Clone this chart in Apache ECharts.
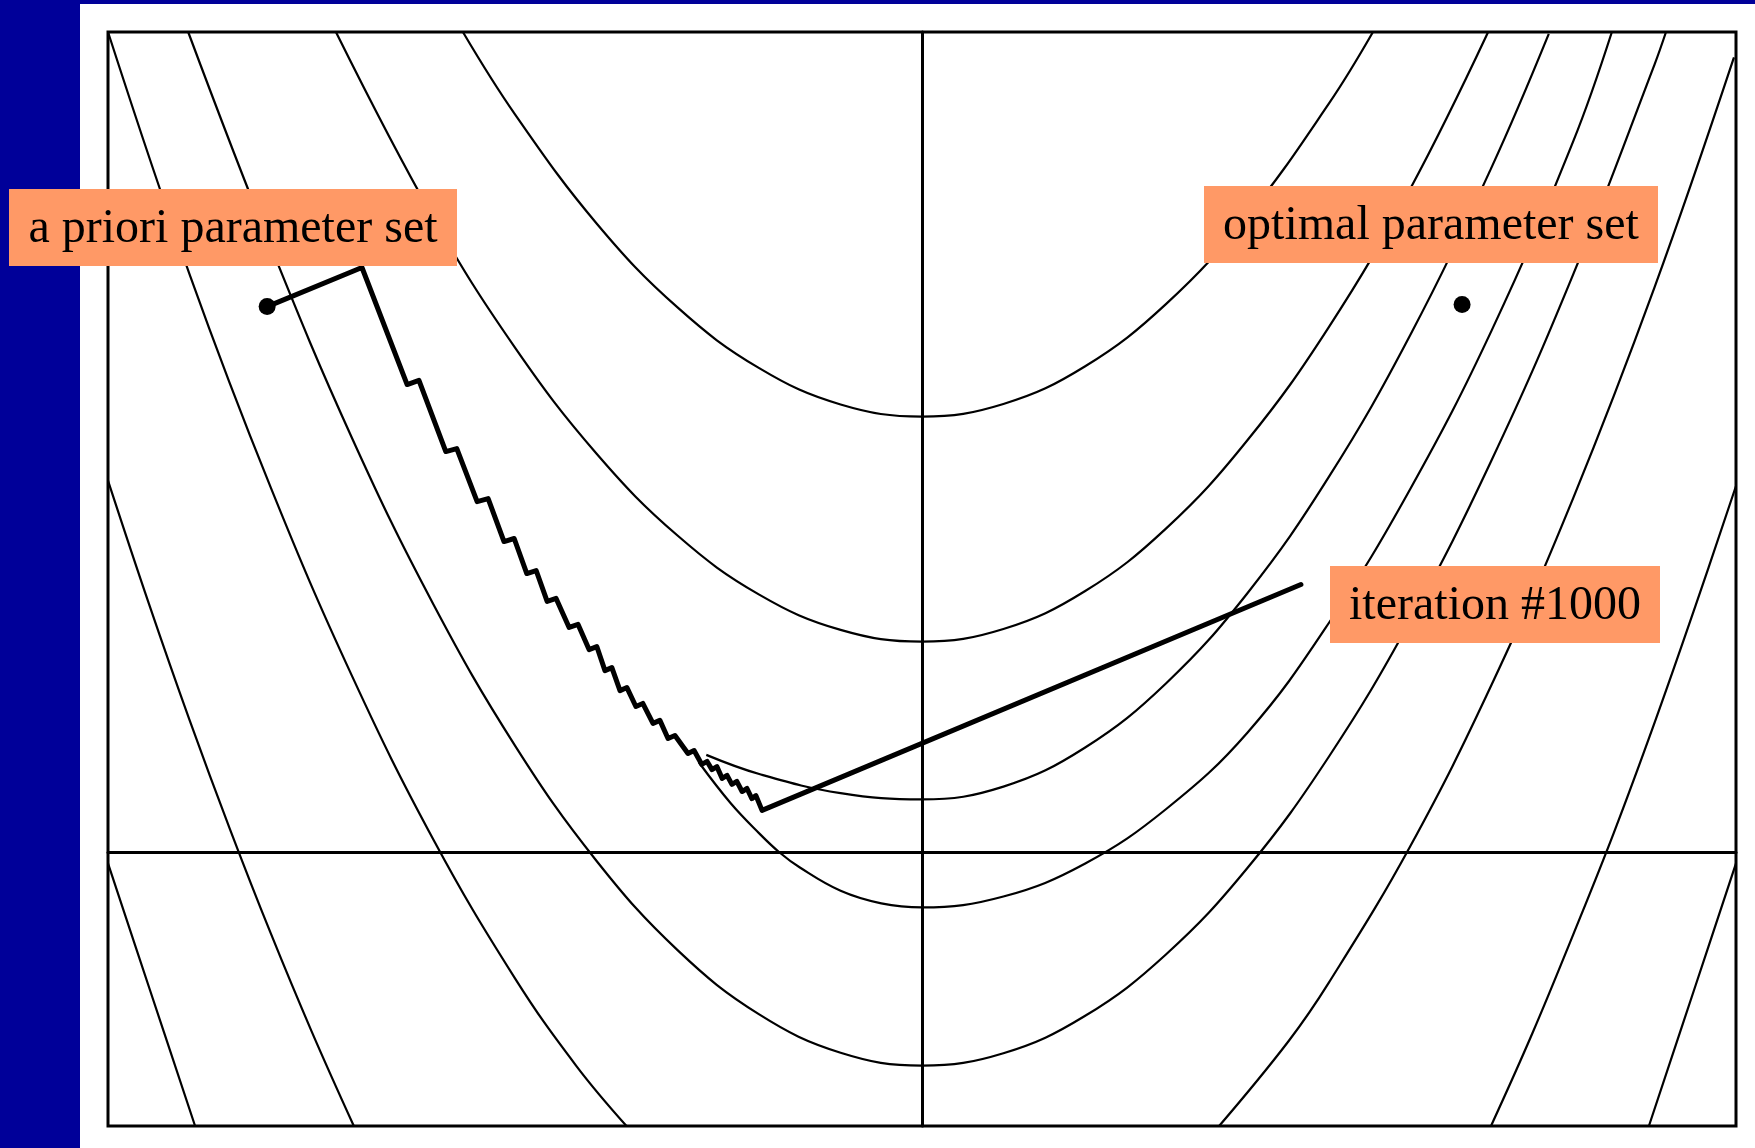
<!DOCTYPE html>
<html>
<head>
<meta charset="utf-8">
<script src="https://cdn.jsdelivr.net/npm/echarts@6/dist/echarts.min.js"></script>
<style>
html,body{margin:0;padding:0;background:#000099;}
#chart{width:1755px;height:1148px;}
</style>
</head>
<body>
<div id="chart"></div>
<script>
// ---- data (x in [-2,2], y in [-1,3]) ----
const contourA = [[-1.128,3.0],[-1.0,2.699],[-0.8,2.301],[-0.6,1.992],[-0.4,1.771],[-0.2,1.638],[0,1.594],[0.2,1.640],[0.4,1.777],[0.6,2.006],[0.8,2.327],[1.0,2.739],[1.108,3.0]];
const contourB = [[-1.44,3.0],[-1.2,2.319],[-1.0,1.846],[-0.8,1.459],[-0.6,1.158],[-0.4,0.943],[-0.2,0.814],[0,0.771],[0.2,0.817],[0.4,0.955],[0.6,1.185],[0.8,1.508],[1.0,1.922],[1.2,2.428],[1.391,3.0]];
const contourC = [[-0.53,0.357],[-0.4,0.287],[-0.2,0.217],[0,0.194],[0.2,0.241],[0.4,0.383],[0.6,0.619],[0.8,0.949],[1.0,1.374],[1.2,1.893],[1.4,2.507],[1.54,2.993]];
const contourD = [[-0.548,0.329],[-0.47,0.18],[-0.4,0.07],[-0.35,0],[-0.3,-0.055],[-0.2,-0.14],[-0.1,-0.186],[0,-0.201],[0.2,-0.161],[0.4,-0.041],[0.6,0.159],[0.8,0.439],[1.0,0.84],[1.2,1.33],[1.4,1.91],[1.6,2.60],[1.695,3.0]];
const contourE = [[-1.803,3.0],[-1.6,2.216],[-1.4,1.514],[-1.2,0.906],[-1.0,0.391],[-0.8,-0.03],[-0.6,-0.358],[-0.4,-0.592],[-0.2,-0.732],[0,-0.779],[0.2,-0.734],[0.4,-0.598],[0.6,-0.372],[0.8,-0.056],[1.0,0.351],[1.2,0.848],[1.4,1.436],[1.6,2.114],[1.8,2.882],[1.828,3.0]];
const contourFLeft = [[-2.0,3.0],[-1.8,2.116],[-1.6,1.334],[-1.4,0.644],[-1.2,0.046],[-1.0,-0.46],[-0.85,-0.779],[-0.726,-1.0]];
const contourFRight = [[0.73,-1.0],[0.9,-0.691],[1.0,-0.475],[1.2,0.024],[1.4,0.615],[1.6,1.296],[1.8,2.067],[1.995,2.907]];
const contourGLeft = [[-2.0,1.36],[-1.9,0.912],[-1.8,0.486],[-1.7,0.084],[-1.6,-0.296],[-1.5,-0.653],[-1.396,-1.0]];
const contourGRight = [[1.398,-1.0],[1.5,-0.66],[1.6,-0.30],[1.7,0.073],[1.8,0.475],[1.9,0.90],[2.0,1.34]];
const contourHLeft = [[-2.0,-0.04],[-1.9,-0.489],[-1.786,-1.0]];
const contourHRight = [[2.0,-0.04],[1.9,-0.489],[1.786,-1.0]];

const searchPath = [[-1.609,1.996],[-1.376,2.139],[-1.265,1.711],[-1.236,1.726],[-1.170,1.466],[-1.143,1.477],[-1.093,1.283],[-1.066,1.294],[-1.027,1.137],[-1.002,1.148],[-0.971,1.020],[-0.948,1.031],[-0.921,0.918],[-0.899,0.929],[-0.867,0.823],[-0.845,0.834],[-0.818,0.742],[-0.799,0.753],[-0.779,0.665],[-0.762,0.676],[-0.742,0.592],[-0.725,0.603],[-0.703,0.534],[-0.686,0.545],[-0.661,0.472],[-0.644,0.483],[-0.624,0.417],[-0.607,0.428],[-0.575,0.362],[-0.560,0.373],[-0.541,0.322],[-0.528,0.333],[-0.516,0.303],[-0.504,0.314],[-0.491,0.271],[-0.479,0.282],[-0.467,0.249],[-0.455,0.260],[-0.442,0.223],[-0.430,0.234],[-0.418,0.197],[-0.408,0.208],[-0.393,0.154],[0.931,0.980]];
const aPrioriPoint = [[-1.609,1.996]];
const optimalPoint = [[1.327,2.004]];
const labelTexts = ['a priori parameter set','optimal parameter set','iteration #1000'];

// ---- chart ----
const chart = echarts.init(document.getElementById('chart'), null, {renderer:'canvas', width:1755, height:1148});
const thinStyle = {color:'#000', width:2.2};
function contour(name, data){
  return {name:name, type:'line', data:data, showSymbol:false, smooth:0.4, silent:true, z:3,
          lineStyle:thinStyle, emphasis:{disabled:true}};
}
function labelBox(text, x, y, w, h){
  return {type:'group', z:100, children:[
    {type:'rect', z:100, shape:{x:x, y:y, width:w, height:h}, style:{fill:'#FF9966'}},
    {type:'text', z:101, style:{text:text, x:x+w/2, y:y+h/2+2, fill:'#000',
      font:'48px "Liberation Serif", "Times New Roman", serif',
      align:'center', verticalAlign:'middle', textAlign:'center', textVerticalAlign:'middle'}}
  ]};
}
const axisCommon = {
  type:'value',
  axisLine:{show:true, onZero:true, lineStyle:{color:'#000', width:3}},
  axisTick:{show:false}, axisLabel:{show:false}, splitLine:{show:false}
};
chart.setOption({
  animation:false,
  backgroundColor:'#000099',
  grid:{left:108, right:19, top:32, bottom:22, show:true, borderColor:'#000', borderWidth:3, backgroundColor:'transparent'},
  xAxis:Object.assign({min:-2, max:2}, axisCommon),
  yAxis:Object.assign({min:-1, max:3}, axisCommon),
  graphic:[
    {type:'rect', z:-100, silent:true, shape:{x:80, y:4, width:1675, height:1144}, style:{fill:'#ffffff'}},
    labelBox(labelTexts[0], 9, 189, 448, 77),
    labelBox(labelTexts[1], 1204, 186, 454, 77),
    labelBox(labelTexts[2], 1330, 566, 330, 77)
  ],
  series:[
    contour('A', contourA),
    contour('B', contourB),
    contour('C', contourC),
    contour('D', contourD),
    contour('E', contourE),
    contour('F left', contourFLeft),
    contour('F right', contourFRight),
    contour('G left', contourGLeft),
    contour('G right', contourGRight),
    contour('H left', contourHLeft),
    contour('H right', contourHRight),
    {name:'search path', type:'line', data:searchPath, showSymbol:false, smooth:false, silent:true, z:5,
     lineStyle:{color:'#000', width:5, join:'round', cap:'round'}},
    {name:'points', type:'scatter', data:aPrioriPoint.concat(optimalPoint), symbol:'circle', symbolSize:17,
     itemStyle:{color:'#000', opacity:1}, silent:true, z:6}
  ]
});
</script>
</body>
</html>
